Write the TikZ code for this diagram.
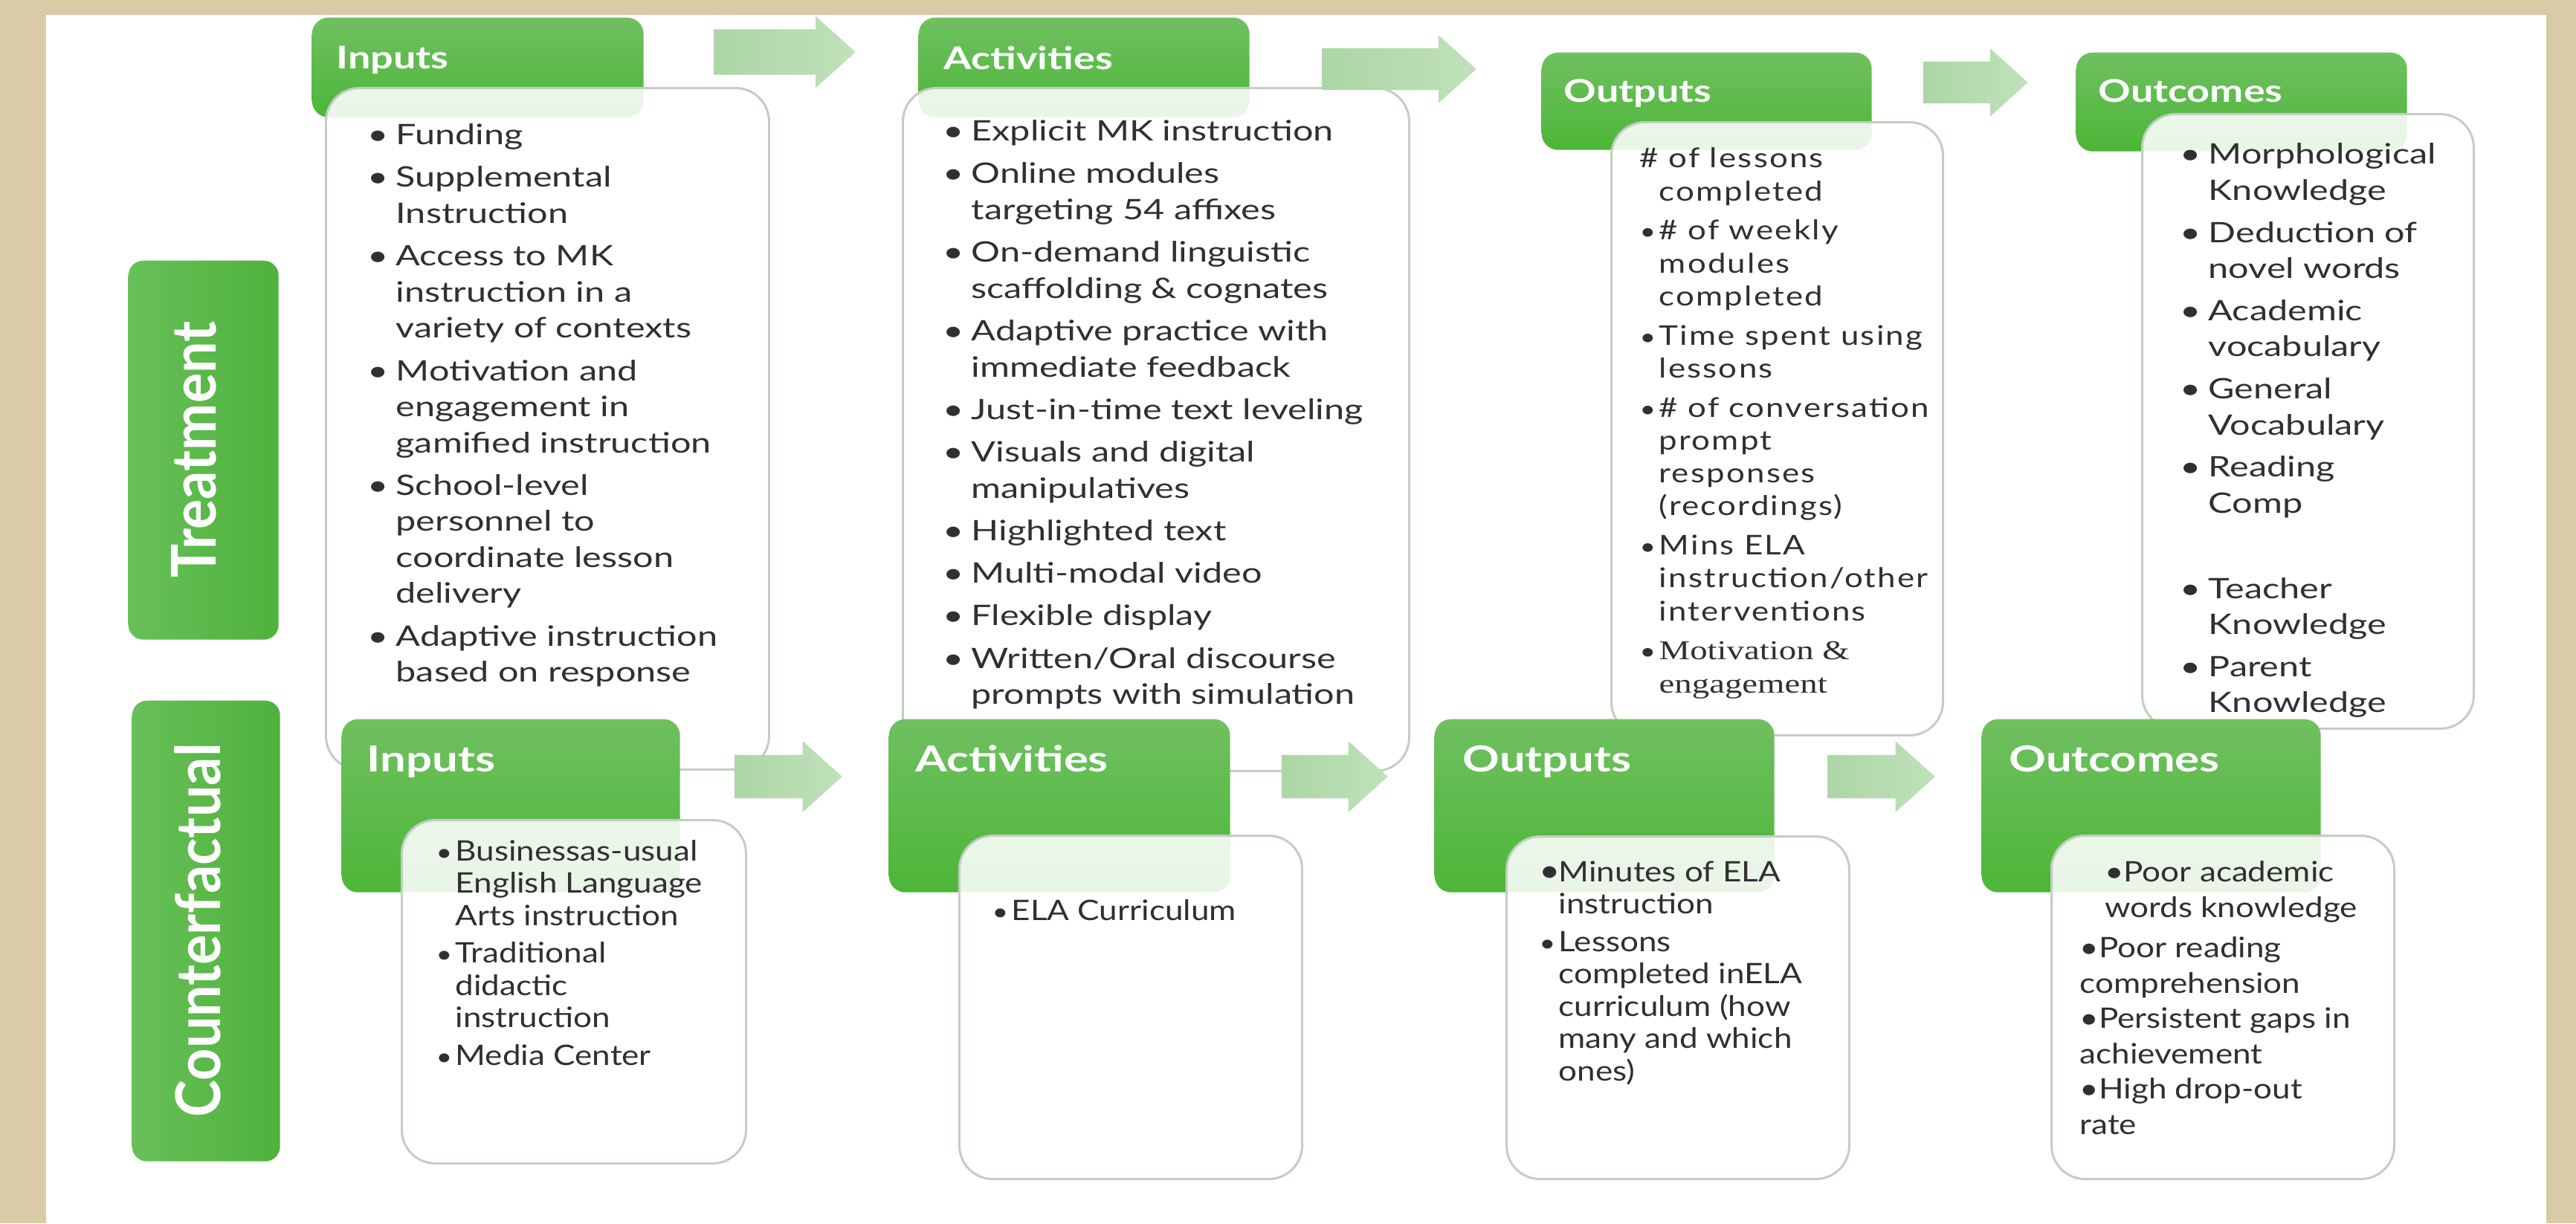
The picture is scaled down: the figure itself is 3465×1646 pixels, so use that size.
\documentclass[tikz,border=0pt]{standalone}
\usepackage{fontspec}
\usepackage{graphicx}
\usepackage{tikz}
\usetikzlibrary{shapes.arrows}
\usepackage{xcolor}
\setmainfont{Lato}
\newfontfamily\wideface{Lato}[FakeStretch=1.28]
\newfontfamily\midface{Lato}[FakeStretch=1.16]
\newfontfamily\spacedface{Lato}[FakeStretch=1.2,LetterSpace=6]
\newfontfamily\timesface{Liberation Serif}[FakeStretch=1.28]
\newfontfamily\sideface{Lato}
\definecolor{beige}{RGB}{216,203,166}
\definecolor{hdrtop}{RGB}{112,192,96}
\definecolor{hdrbot}{RGB}{76,182,56}
\definecolor{sideL}{RGB}{104,192,88}
\definecolor{sideR}{RGB}{78,178,60}
\definecolor{arwL}{RGB}{172,214,166}
\definecolor{arwR}{RGB}{192,225,186}
\definecolor{ink}{RGB}{48,48,48}
\definecolor{bodyline}{RGB}{194,206,194}
\newcommand{\itembul}{\makebox[10.8pt][l]{\textbullet}}
\newcommand{\itemind}{\hspace*{10.8pt}}
\newcommand{\smallbul}{\makebox[7.4pt][l]{\scalebox{0.85}{\textbullet}}}
\newcommand{\smallind}{\hspace*{7.4pt}}

\begin{document}
\begin{tikzpicture}[x=0.1mm, y=-0.1mm,
  hdr/.style={rectangle, rounded corners=2.2mm, top color=hdrtop, bottom color=hdrbot, inner sep=0pt, anchor=north west},
  side/.style={rectangle, rounded corners=2mm, left color=sideL, right color=sideR, inner sep=0pt, anchor=north west},
  body/.style={rectangle, rounded corners=4.5mm, draw=bodyline, line width=0.85pt, fill=white, fill opacity=0.88, inner sep=0pt, anchor=north west},
  flow/.style={single arrow, single arrow head extend=1.75mm, single arrow tip angle=84, left color=arwL, right color=arwR, inner xsep=0pt, inner ysep=3mm, anchor=tail},
  txt/.style={anchor=north west, inner sep=0pt, align=left, text=ink},
  toptxt/.style={txt, font=\wideface\fontsize{10.8}{13.8}\selectfont},
  bottxt/.style={txt, font=\midface\fontsize{10.8}{12.4}\selectfont},
  hlab/.style={anchor=base west, inner sep=0pt, text=white, font=\wideface\bfseries\fontsize{12}{14}\selectfont},
  hlabbig/.style={hlab, font=\wideface\bfseries\fontsize{13.7}{16}\selectfont},
  slab/.style={rotate=90, inner sep=0pt, text=white, font=\sideface\bfseries\fontsize{21.5}{24}\selectfont}]
  \useasboundingbox (0,0) rectangle (3465,1646);
  \fill[beige] (0,0) rectangle (3465,1646);
  \fill[white] (62,20) rectangle (3425,1646);

  % row labels
  \node[side, minimum width=20.2mm, minimum height=51mm] (trBox) at (172,350) {};
  \node[slab] (trLab) at (261,605) {\scalebox{1}[1.1]{Treatment}};
  \node[side, minimum width=19.9mm, minimum height=62mm] (cfBox) at (177,942) {};
  \node[slab] (cfLab) at (266,1252) {\scalebox{1}[1.1]{Counterfactual}};

  % treatment row
  \node[hdr, minimum width=44.6mm, minimum height=13.4mm] (tInHd) at (419,23) {};
  \node[hlab] (tInLab) at (452,92) {Inputs};
  \node[body, minimum width=59.6mm, minimum height=91.7mm] (tInBody) at (437,117) {};
  \node[toptxt] (tInTxt) at (494,160) {\strut\itembul Funding\\[2.5pt]
    \itembul Supplemental\\ \itemind Instruction\\[2.5pt]
    \itembul Access to MK\\ \itemind instruction in a\\ \itemind variety of contexts\\[2.5pt]
    \itembul Motivation and\\ \itemind engagement in\\ \itemind gamified instruction\\[2.5pt]
    \itembul School-level\\ \itemind personnel to\\ \itemind coordinate lesson\\ \itemind delivery\\[2.5pt]
    \itembul Adaptive instruction\\ \itemind based on response};

  \node[hdr, minimum width=44.5mm, minimum height=13.4mm] (tActHd) at (1235,23) {};
  \node[hlab] (tActLab) at (1269,93) {Activities};
  \node[body, minimum width=68.1mm, minimum height=91.9mm] (tActBody) at (1213,117) {};
  \node[toptxt] (tActTxt) at (1268,155) {\strut\itembul Explicit MK instruction\\[2.5pt]
    \itembul Online modules\\ \itemind targeting 54 affixes\\[2.5pt]
    \itembul On-demand linguistic\\ \itemind scaffolding \& cognates\\[2.5pt]
    \itembul Adaptive practice with\\ \itemind immediate feedback\\[2.5pt]
    \itembul Just-in-time text leveling\\[2.5pt]
    \itembul Visuals and digital\\ \itemind manipulatives\\[2.5pt]
    \itembul Highlighted text\\[2.5pt]
    \itembul Multi-modal video\\[2.5pt]
    \itembul Flexible display\\[2.5pt]
    \itembul Written/Oral discourse\\ \itemind prompts with simulation};

  \node[hdr, minimum width=44.4mm, minimum height=13.1mm] (tOutHd) at (2073,70) {};
  \node[hlab] (tOutLab) at (2103,137) {Outputs};
  \node[body, minimum width=44.6mm, minimum height=82.5mm] (tOutBody) at (2166,163) {};
  \node[txt, font=\spacedface\fontsize{10.4}{12.6}\selectfont] (tOutTxt) at (2205,194) {\strut\# of lessons\\ \smallind completed\\[2.4pt]
    \smallbul\# of weekly\\ \smallind modules\\ \smallind completed\\[2.4pt]
    \smallbul Time spent using\\ \smallind lessons\\[2.4pt]
    \smallbul\# of conversation\\ \smallind prompt\\ \smallind responses\\ \smallind (recordings)\\[2.4pt]
    \smallbul Mins ELA\\ \smallind instruction/other\\ \smallind interventions\\[2.4pt]
    \smallbul{\timesface Motivation \&}\\ \smallind{\timesface engagement}};

  \node[hdr, minimum width=44.5mm, minimum height=13.3mm] (tOcHd) at (2792,70) {};
  \node[hlab] (tOcLab) at (2822,137) {Outcomes};
  \node[body, minimum width=44.6mm, minimum height=82.7mm] (tOcBody) at (2880,152) {};
  \node[txt, font=\wideface\fontsize{10.8}{13.9}\selectfont] (tOcTxt) at (2932,186) {\strut\itembul Morphological\\ \itemind Knowledge\\[2.1pt]
    \itembul Deduction of\\ \itemind novel words\\[2.1pt]
    \itembul Academic\\ \itemind vocabulary\\[2.1pt]
    \itembul General\\ \itemind Vocabulary\\[2.1pt]
    \itembul Reading\\ \itemind Comp\\[18.8pt]
    \itembul Teacher\\ \itemind Knowledge\\[2.1pt]
    \itembul Parent\\ \itemind Knowledge};

  \node[flow, minimum height=19mm] (tArr1) at (960,70) {};
  \node[flow, minimum height=20.7mm, inner ysep=2.75mm] (tArr2) at (1778,93) {};
  \node[flow, minimum height=14mm, inner ysep=2.75mm] (tArr3) at (2587,111) {};

  % counterfactual row
  \node[hdr, minimum width=45.5mm, minimum height=23.3mm] (cInHd) at (459,967) {};
  \node[hlabbig] (cInLab) at (493,1038) {Inputs};
  \node[body, minimum width=46.3mm, minimum height=46.2mm] (cInBody) at (539,1102) {};
  \node[bottxt] (cInTxt) at (586,1127) {\strut\smallbul Businessas-usual\\ \smallind English Language\\ \smallind Arts instruction\\[1.9pt]
    \smallbul Traditional\\ \smallind didactic\\ \smallind instruction\\[1.9pt]
    \smallbul Media Center};

  \node[hdr, minimum width=45.9mm, minimum height=23.3mm] (cActHd) at (1195,967) {};
  \node[hlabbig] (cActLab) at (1231,1038) {Activities};
  \node[body, minimum width=46.1mm, minimum height=46.2mm] (cActBody) at (1289,1123) {};
  \node[bottxt] (cActTxt) at (1334,1207) {\strut\smallbul ELA Curriculum};

  \node[hdr, minimum width=45.7mm, minimum height=23.3mm] (cOutHd) at (1929,967) {};
  \node[hlabbig] (cOutLab) at (1967,1038) {Outputs};
  \node[body, minimum width=46.1mm, minimum height=46.1mm] (cOutBody) at (2025,1124) {};
  \node[bottxt] (cOutTxt) at (2070,1155) {\strut\makebox[7.4pt][l]{\large\textbullet}Minutes of ELA\\ \smallind instruction\\[1.9pt]
    \smallbul Lessons\\ \smallind completed inELA\\ \smallind curriculum (how\\ \smallind many and which\\ \smallind ones)};

  \node[hdr, minimum width=45.6mm, minimum height=23.3mm] (cOcHd) at (2665,967) {};
  \node[hlabbig] (cOcLab) at (2702,1038) {Outcomes};
  \node[body, minimum width=46.1mm, minimum height=46.2mm] (cOcBody) at (2758,1123) {};
  \node[txt, font=\midface\fontsize{10.8}{13.5}\selectfont] (cOcTxt) at (2797,1153) {\strut\hspace*{9.5pt}\textbullet Poor academic\\ \hspace*{9.5pt}words knowledge\\[2pt]
    \textbullet Poor reading\\ comprehension\\
    \textbullet Persistent gaps in\\ achievement\\
    \textbullet High drop-out\\ rate};

  \node[flow, minimum height=14.4mm, inner ysep=2.85mm, single arrow head extend=1.85mm] (cArr1) at (988,1045) {};
  \node[flow, minimum height=14.2mm, inner ysep=2.85mm, single arrow head extend=1.85mm] (cArr2) at (1724,1045) {};
  \node[flow, minimum height=14.4mm, inner ysep=2.85mm, single arrow head extend=1.85mm] (cArr3) at (2458,1045) {};
\end{tikzpicture}
\end{document}
